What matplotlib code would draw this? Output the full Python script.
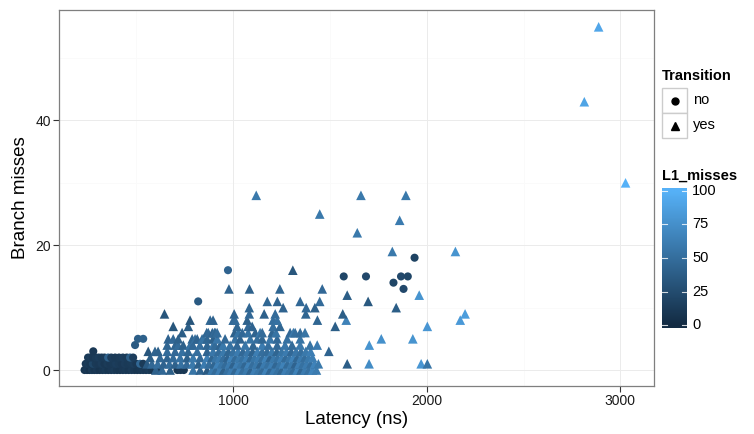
import numpy as np
import matplotlib
matplotlib.use("Agg")
import matplotlib.pyplot as plt
from matplotlib.colors import LinearSegmentedColormap
from matplotlib.patches import Rectangle

plt.rcParams['font.family'] = ['Liberation Sans', 'DejaVu Sans']

# ---------------- data ----------------
# Transition = "no" (circles)
no_latency = [
    # branch misses 0
    232, 245, 258, 270, 283, 296, 310, 325, 340, 355, 370, 385, 400, 415, 430,
    445, 460, 475, 490, 505, 520, 535, 550, 565, 580, 595, 610, 622, 712, 728, 745,
    # branch misses 1
    238, 250, 262, 275, 290, 305, 320, 335, 350, 365, 380, 395, 410, 425, 440,
    455, 470, 485, 500, 519, 535,
    # branch misses 2
    250, 262, 275, 290, 305, 320, 335, 354, 370, 390, 410, 430, 450, 467, 483,
    # higher
    277, 493, 508, 535, 819, 973, 1571, 1686, 1867, 1902, 1828, 1880, 1937,
]
no_branch = [
    0, 0, 0, 0, 0, 0, 0, 0, 0, 0, 0, 0, 0, 0, 0,
    0, 0, 0, 0, 0, 0, 0, 0, 0, 0, 0, 0, 0, 0, 0, 0,
    1, 1, 1, 1, 1, 1, 1, 1, 1, 1, 1, 1, 1, 1, 1,
    1, 1, 1, 1, 1, 1,
    2, 2, 2, 2, 2, 2, 2, 2, 2, 2, 2, 2, 2, 2, 2,
    3, 4, 5, 5, 11, 16, 15, 15, 15, 15, 14, 13, 18,
]
no_l1 = [
    8, 10, 6, 12, 8, 10, 7, 9, 11, 8, 10, 12, 9, 8, 10,
    11, 9, 12, 10, 8, 9, 11, 10, 12, 8, 9, 10, 11, 8, 10, 9,
    10, 12, 9, 20, 11, 10, 13, 9, 12, 10, 11, 14, 12, 10, 13,
    11, 12, 14, 10, 45, 12,
    11, 13, 10, 12, 14, 11, 12, 40, 13, 11, 12, 14, 12, 38, 14,
    10, 35, 38, 40, 35, 42, 20, 22, 22, 20, 20, 22, 18,
]

# Transition = "yes" (triangles)
yes_latency = [
    # branch misses 0
    600, 633, 674, 793, 829, 865, 890, 910, 930, 950, 970, 990, 1010, 1030, 1050,
    1070, 1090, 1110, 1130, 1150, 1170, 1190, 1210, 1230, 1250, 1270, 1290,
    1310, 1330, 1350, 1370, 1390, 1410, 1430,
    # branch misses 1
    555, 580, 610, 640, 670, 700, 730, 760, 790, 820, 850, 875, 900, 920, 940,
    960, 980, 1000, 1020, 1040, 1060, 1080, 1100, 1120, 1140, 1160, 1180, 1200,
    1220, 1240, 1260, 1280, 1300, 1320, 1340, 1360, 1380, 1400, 1420, 1440,
    1589, 1702, 1971, 2003,
    # branch misses 2
    571, 622, 659, 690, 726, 762, 793, 829, 865, 890, 910, 930, 950, 970, 990,
    1010, 1030, 1050, 1070, 1090, 1110, 1130, 1150, 1170, 1190, 1210, 1230,
    1250, 1270, 1290, 1310, 1330, 1350, 1370, 1390, 1410,
    # branch misses 3
    561, 596, 612, 659, 700, 736, 767, 814, 865, 896, 925, 950, 975, 1000, 1025,
    1050, 1075, 1100, 1125, 1150, 1175, 1200, 1225, 1250, 1275, 1300, 1325,
    1350, 1375, 1400, 1494,
    # branch misses 4
    659, 700, 716, 742, 777, 792, 828, 865, 896, 906, 932, 948, 984, 1020, 1062,
    1103, 1150, 1181, 1227, 1268, 1304, 1346, 1397, 1434, 1703,
    # branch misses 5
    664, 690, 716, 788, 803, 814, 839, 845, 865, 896, 917, 958, 1010, 1036, 1088,
    1124, 1150, 1191, 1227, 1279, 1346, 1765, 1928,
    # branch misses 6
    736, 863, 871, 892, 903, 907, 917, 1007, 1026, 1047, 1077, 1114, 1139,
    1150, 1201, 1221, 1294, 1311, 1320, 1346, 1371,
    # branch misses 7
    690, 768, 1020, 1077, 1098, 1206, 1242, 1527, 2003,
    # branch misses 8
    777, 881, 896, 1000, 1010, 1072, 1206, 1227, 1435, 1584, 2173,
    # branch misses 9
    645, 1005, 1083, 1160, 1217, 1375, 1566, 2198,
    # branch misses 10
    1083, 1258, 1377, 1422, 1842,
    # branch misses 11-13
    1176, 1228, 1346, 1447, 1697, 1589, 1961, 978, 1084, 1241, 1460,
    # high values
    1308, 1822, 2148, 1641, 1860, 1447, 1119, 1660, 1892, 3027, 2814, 2888,
]
yes_branch = [
    0, 0, 0, 0, 0, 0, 0, 0, 0, 0, 0, 0, 0, 0, 0,
    0, 0, 0, 0, 0, 0, 0, 0, 0, 0, 0, 0,
    0, 0, 0, 0, 0, 0, 0,
    1, 1, 1, 1, 1, 1, 1, 1, 1, 1, 1, 1, 1, 1, 1,
    1, 1, 1, 1, 1, 1, 1, 1, 1, 1, 1, 1, 1,
    1, 1, 1, 1, 1, 1, 1, 1, 1, 1, 1, 1,
    1, 1, 1, 1,
    2, 2, 2, 2, 2, 2, 2, 2, 2, 2, 2, 2, 2, 2, 2,
    2, 2, 2, 2, 2, 2, 2, 2, 2, 2, 2, 2,
    2, 2, 2, 2, 2, 2, 2, 2, 2,
    3, 3, 3, 3, 3, 3, 3, 3, 3, 3, 3, 3, 3, 3, 3,
    3, 3, 3, 3, 3, 3, 3, 3, 3, 3, 3, 3,
    3, 3, 3, 3,
    4, 4, 4, 4, 4, 4, 4, 4, 4, 4, 4, 4, 4, 4, 4,
    4, 4, 4, 4, 4, 4, 4, 4, 4, 4,
    5, 5, 5, 5, 5, 5, 5, 5, 5, 5, 5, 5, 5, 5, 5,
    5, 5, 5, 5, 5, 5, 5, 5,
    6, 6, 6, 6, 6, 6, 6, 6, 6, 6, 6, 6, 6,
    6, 6, 6, 6, 6, 6, 6, 6,
    7, 7, 7, 7, 7, 7, 7, 7, 7,
    8, 8, 8, 8, 8, 8, 8, 8, 8, 8, 8,
    9, 9, 9, 9, 9, 9, 9, 9,
    10, 10, 10, 10, 10,
    11, 11, 11, 11, 11, 12, 12, 13, 13, 13, 13,
    16, 19, 19, 22, 24, 25, 28, 28, 28, 30, 43, 55,
]
yes_l1 = [
    40, 45, 38, 55, 42, 35, 58, 48, 62, 40, 52, 60, 45, 65, 50,
    58, 42, 62, 55, 48, 65, 45, 60, 52, 44, 62, 55,
    48, 65, 45, 60, 52, 66, 60,
    35, 45, 50, 42, 48, 40, 52, 46, 58, 40, 60, 50, 44, 65, 55,
    48, 60, 42, 62, 55, 45, 65, 50, 58, 42, 60, 52, 62,
    45, 55, 65, 48, 58, 42, 62, 52, 60, 50, 66, 58,
    38, 72, 80, 55,
    38, 45, 42, 48, 52, 40, 58, 46, 62, 44, 55, 60, 50, 42, 65,
    48, 58, 52, 62, 45, 55, 60, 50, 65, 42, 58, 52,
    62, 48, 55, 65, 45, 60, 50, 58, 62,
    32, 42, 40, 48, 46, 52, 44, 50, 42, 56, 48, 58, 44, 52, 60,
    46, 56, 42, 62, 50, 48, 58, 44, 54, 60, 46, 56,
    50, 58, 62, 42,
    44, 42, 48, 40, 52, 46, 50, 44, 56, 48, 42, 58, 52, 46, 56,
    44, 60, 50, 46, 56, 48, 58, 54, 60, 78,
    42, 46, 40, 44, 50, 42, 48, 54, 44, 40, 56, 46, 52, 42, 54,
    50, 44, 56, 46, 52, 54, 75, 78,
    38, 44, 46, 42, 50, 44, 48, 40, 54, 46, 52, 42, 56,
    48, 44, 54, 46, 58, 50, 48, 54,
    32, 38, 44, 46, 42, 50, 44, 38, 80,
    32, 44, 42, 46, 48, 40, 50, 52, 44, 65, 82,
    32, 42, 46, 40, 48, 44, 38, 85,
    44, 42, 46, 40, 38,
    44, 42, 46, 48, 34, 38, 78, 42, 40, 44, 46,
    32, 58, 78, 58, 60, 58, 58, 58, 58, 100, 90, 92,
]

x_breaks = [1000, 2000, 3000]
y_breaks = [0, 20, 40]
l1_breaks = [0, 25, 50, 75, 100]

# ---------------- styling ----------------
W, H = 754, 434
fig = plt.figure(figsize=(W / 100, H / 100), dpi=100)
cmap = LinearSegmentedColormap.from_list("gg", ["#132B43", "#56B1F7"])
norm = plt.Normalize(0, 100)


def fx(px):
    return px / W


def fy(py):
    return 1 - py / H


ax = fig.add_axes([fx(59), fy(386), fx(654) - fx(59), fy(10) - fy(386)])
ax.set_xlim(100, 3174)
ax.set_ylim(-2.56, 57.7)
ax.set_facecolor("white")

# grid
for v in [500, 1500, 2500]:
    ax.axvline(v, color="#FAFAFA", lw=0.6, zorder=0)
for v in [10, 30, 50]:
    ax.axhline(v, color="#FAFAFA", lw=0.6, zorder=0)
for v in x_breaks:
    ax.axvline(v, color="#EBEBEB", lw=0.7, zorder=0)
for v in y_breaks:
    ax.axhline(v, color="#EBEBEB", lw=0.7, zorder=0)

ax.scatter(no_latency, no_branch, c=no_l1, cmap=cmap, norm=norm, marker="o",
           s=34, linewidths=0, zorder=2)
ax.scatter(yes_latency, yes_branch, c=yes_l1, cmap=cmap, norm=norm, marker="^",
           s=48, linewidths=0, zorder=3)

ax.set_xticks(x_breaks)
ax.set_yticks(y_breaks)
ax.set_xticklabels([str(v) for v in x_breaks])
ax.set_yticklabels([str(v) for v in y_breaks])
ax.tick_params(axis="both", length=4, width=0.8, color="#333333",
               labelsize=10, labelcolor="#1a1a1a", pad=2)
for s in ax.spines.values():
    s.set_color("#7F7F7F")
    s.set_linewidth(0.9)

ax.set_xlabel("Latency (ns)", fontsize=13.5, labelpad=2)
ax.set_ylabel("Branch misses", fontsize=13.5, labelpad=4)

# ---------------- legend: Transition ----------------
fig.text(fx(662), fy(76), "Transition", fontsize=10.5, fontweight="bold",
         ha="left", va="center")
for i, (lab, mk) in enumerate([("no", "o"), ("yes", "^")]):
    top = 88 + i * 25
    fig.patches.append(Rectangle((fx(662), fy(top + 25)), fx(687) - fx(662),
                                 fy(top) - fy(top + 25), transform=fig.transFigure,
                                 facecolor="white", edgecolor="#CCCCCC", lw=1.0))
    fig.lines.append(plt.Line2D([fx(674.5)], [fy(top + 12.5)], marker=mk,
                                markersize=5 if mk == "o" else 6, color="black",
                                lw=0, transform=fig.transFigure))
    fig.text(fx(693), fy(top + 12.5), lab, fontsize=10.5, ha="left", va="center")

# ---------------- legend: colourbar ----------------
fig.text(fx(662), fy(176), "L1_misses", fontsize=10.5, fontweight="bold",
         ha="left", va="center")
cax = fig.add_axes([fx(662), fy(328), fx(687) - fx(662), fy(188) - fy(328)])
lo, hi = -2.2, 102.2
grad = np.linspace(lo, hi, 256).reshape(-1, 1)
cax.imshow(grad, aspect="auto", cmap=cmap, norm=norm, origin="lower",
           extent=[0, 1, lo, hi])
cax.set_xlim(0, 1)
cax.set_ylim(lo, hi)
cax.set_xticks([])
cax.set_yticks([])
for s in cax.spines.values():
    s.set_visible(False)
for b in l1_breaks:
    cax.plot([0, 0.2], [b, b], color="white", lw=0.8, alpha=0.8)
    cax.plot([0.8, 1], [b, b], color="white", lw=0.8, alpha=0.8)
    fig.text(fx(692), cax.transData.transform((0, b))[1] / H, str(b),
             fontsize=10.5, ha="left", va="center")

fig.savefig("out.png", dpi=100)
